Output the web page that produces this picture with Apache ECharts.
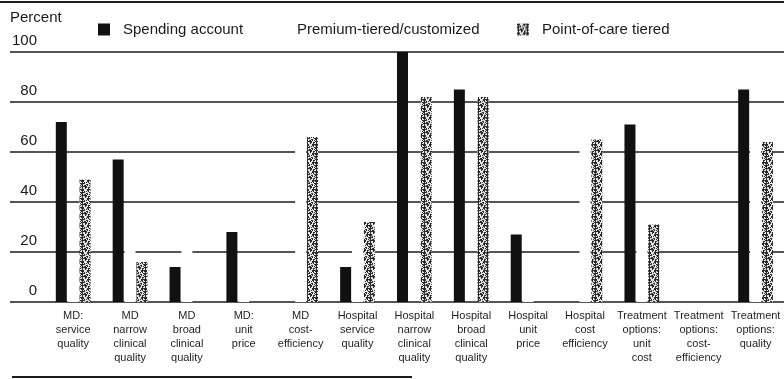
<!DOCTYPE html>
<html>
<head>
<meta charset="utf-8">
<script src="https://cdn.jsdelivr.net/npm/echarts@6/dist/echarts.min.js"></script>
<style>
  html, body { margin: 0; padding: 0; background: #fff; }
  #chart { width: 784px; height: 379px; }
</style>
</head>
<body>
<div id="chart"></div>
<script>
// Survey categories, one group of three bars each
const categories = [
  'MD:\nservice\nquality',
  'MD\nnarrow\nclinical\nquality',
  'MD\nbroad\nclinical\nquality',
  'MD:\nunit\nprice',
  'MD\ncost-\nefficiency',
  'Hospital\nservice\nquality',
  'Hospital\nnarrow\nclinical\nquality',
  'Hospital\nbroad\nclinical\nquality',
  'Hospital\nunit\nprice',
  'Hospital\ncost\nefficiency',
  'Treatment\noptions:\nunit\ncost',
  'Treatment\noptions:\ncost-\nefficiency',
  'Treatment\noptions:\nquality'
];

const seriesNames = ['Spending account', 'Premium-tiered/customized', 'Point-of-care tiered'];

// Percent values per plan design
const spendingAccount = [72, 57, 14, 28, 0, 14, 100, 85, 27, 0, 71, 0, 85];
const premiumTiered   = [10, 30, 30, 10, 70, 30, 0, 0, 10, 70, 30, 0, 70];
const pointOfCare     = [49, 16, 0, 0, 66, 32, 82, 82, 0, 65, 31, 0, 64];

const yTicks = [0, 20, 40, 60, 80, 100];

// Speckled fill used for the point-of-care series
function speckle() {
  const c = document.createElement('canvas');
  const n = 9;
  c.width = n; c.height = n;
  const g = c.getContext('2d');
  g.fillStyle = '#e6e6e6';
  g.fillRect(0, 0, n, n);
  g.fillStyle = '#2a2a2a';
  for (let y = 0; y < n; y++) {
    for (let x = 0; x < n; x++) {
      const v = (x * 37 + y * 57 + x * y * 11) % 17;
      if (v < 8) g.fillRect(x, y, 1, 1);
    }
  }
  return { image: c, repeat: 'repeat' };
}

const chart = echarts.init(document.getElementById('chart'), null, { renderer: 'canvas' });
const font = 'Liberation Sans, Arial, sans-serif';

const legendBase = {
  orient: 'horizontal',
  top: 17,
  itemWidth: 12,
  itemHeight: 12,
  icon: 'rect',
  selectedMode: false,
  textStyle: { fontFamily: font, fontSize: 15, color: '#1a1a1a', padding: [0, 0, 0, 8] }
};

chart.setOption({
  animation: false,
  backgroundColor: '#fff',
  textStyle: { fontFamily: font },
  legend: [
    Object.assign({}, legendBase, { left: 93, data: [seriesNames[0]] }),
    Object.assign({}, legendBase, { left: 267, data: [seriesNames[1]] }),
    Object.assign({}, legendBase, { left: 512, data: [seriesNames[2]] })
  ],
  grid: [
    { left: 44.75, width: 747.5, top: 52, bottom: 77 },
    { left: 10, right: 0, top: 52, bottom: 77 }
  ],
  xAxis: [
    {
      type: 'category', gridIndex: 0, data: categories,
      axisLine: { show: false }, axisTick: { show: false },
      axisLabel: {
        interval: 0, margin: 7, fontSize: 11, lineHeight: 14,
        color: '#1e1e1e', fontFamily: font
      }
    },
    { type: 'value', gridIndex: 1, show: false, min: 0, max: 1 }
  ],
  yAxis: [
    { type: 'value', gridIndex: 0, min: 0, max: 100, interval: 20, show: false },
    {
      type: 'value', gridIndex: 1, min: yTicks[0], max: yTicks[yTicks.length - 1], interval: 20,
      name: 'Percent', nameLocation: 'end', nameGap: 27,
      nameTextStyle: { align: 'left', verticalAlign: 'bottom', fontSize: 15, color: '#1a1a1a', fontFamily: font },
      axisLine: { show: false }, axisTick: { show: false },
      axisLabel: {
        inside: true, align: 'right', margin: 27, verticalAlign: 'bottom',
        padding: [0, 0, 4, 0], fontSize: 15, color: '#1a1a1a', fontFamily: font
      },
      splitLine: { show: true, lineStyle: { color: '#1c1c1c', width: 1.6 } }
    }
  ],
  graphic: [
    { type: 'line', shape: { x1: 0, y1: 2, x2: 784, y2: 2 }, style: { stroke: '#1c1c1c', lineWidth: 2 } },
    { type: 'line', shape: { x1: 12, y1: 377, x2: 412, y2: 377 }, style: { stroke: '#1c1c1c', lineWidth: 2 } }
  ],
  series: [
    {
      name: seriesNames[0], type: 'bar', xAxisIndex: 0, yAxisIndex: 0,
      data: spendingAccount, barWidth: 11, barGap: '8%', barCategoryGap: '40%',
      itemStyle: { color: '#111' }
    },
    {
      name: seriesNames[1], type: 'bar', xAxisIndex: 0, yAxisIndex: 0,
      data: premiumTiered, barWidth: 11, barGap: '8%',
      itemStyle: { color: '#fff' }
    },
    {
      name: seriesNames[2], type: 'bar', xAxisIndex: 0, yAxisIndex: 0,
      data: pointOfCare, barWidth: 11, barGap: '8%',
      itemStyle: { color: speckle() }
    }
  ]
});
</script>
</body>
</html>
